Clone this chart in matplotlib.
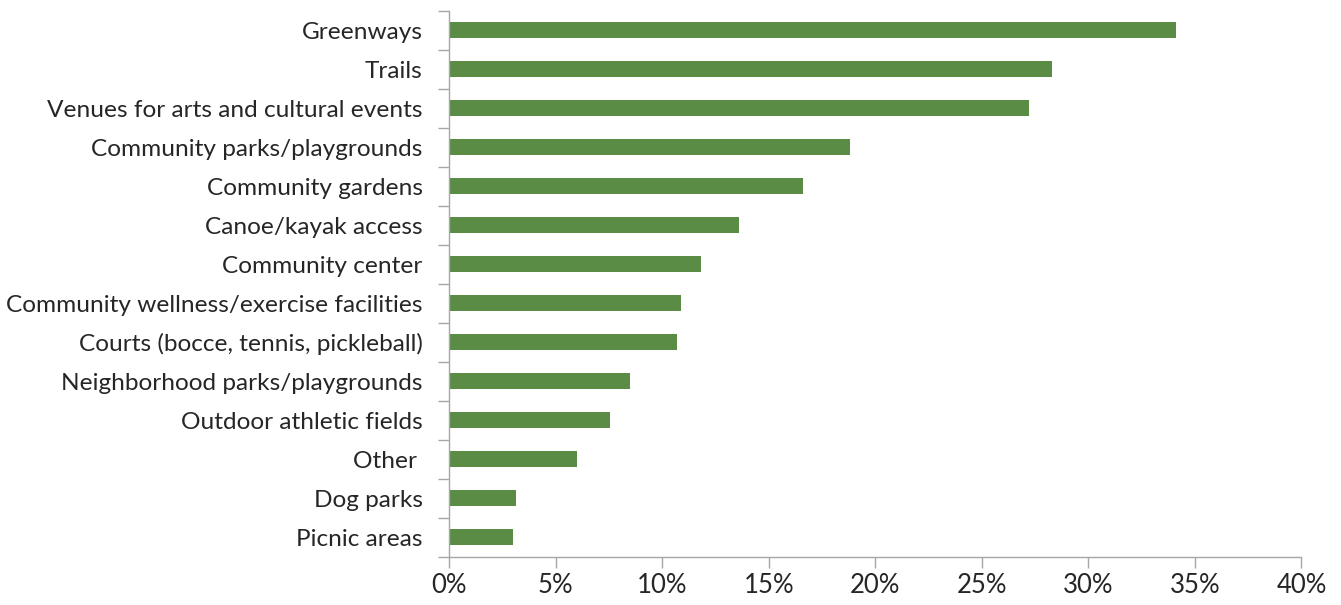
import matplotlib.pyplot as plt
from matplotlib.ticker import FixedLocator, PercentFormatter

plt.rcParams['font.family'] = ['Lato', 'DejaVu Sans']

categories = ['Greenways', 'Trails', 'Venues for arts and cultural events',
              'Community parks/playgrounds', 'Community gardens',
              'Canoe/kayak access', 'Community center',
              'Community wellness/exercise facilities',
              'Courts (bocce, tennis, pickleball)',
              'Neighborhood parks/playgrounds', 'Outdoor athletic fields',
              'Other ', 'Dog parks', 'Picnic areas']
values = [34.1, 28.3, 27.2, 18.8, 16.6, 13.6, 11.8, 10.9, 10.7, 8.5, 7.55,
          6.0, 3.15, 3.0]

bar_color = '#5A8C46'
axis_color = '#A6A6A6'

fig = plt.figure(figsize=(13.41, 6.05), dpi=100)
ax = fig.add_axes([0.335, 0.0798, 0.6355, 0.9025])

y = list(range(len(categories)))[::-1]
ax.barh(y, values, height=0.41, color=bar_color)

ax.set_xlim(0, 40)
ax.set_ylim(-0.5, len(categories) - 0.5)
ax.set_xticks(range(0, 41, 5))
ax.xaxis.set_major_formatter(PercentFormatter(decimals=0))

ax.set_yticks(y)
ax.set_yticklabels(categories)
ax.yaxis.set_minor_locator(FixedLocator([i - 0.5 for i in range(len(categories) + 1)]))
ax.tick_params(axis='y', which='major', length=0, pad=19, labelsize=17.6, labelcolor='#262626')
ax.tick_params(axis='y', which='minor', length=8, color=axis_color, width=1)
ax.tick_params(axis='x', length=8, color=axis_color, width=1, pad=4, labelsize=18.5, labelcolor='#262626')

for s in ['top', 'right']:
    ax.spines[s].set_visible(False)
for s in ['left', 'bottom']:
    ax.spines[s].set_color(axis_color)
    ax.spines[s].set_linewidth(1)

plt.savefig('out.png', dpi=100)
plt.close()
